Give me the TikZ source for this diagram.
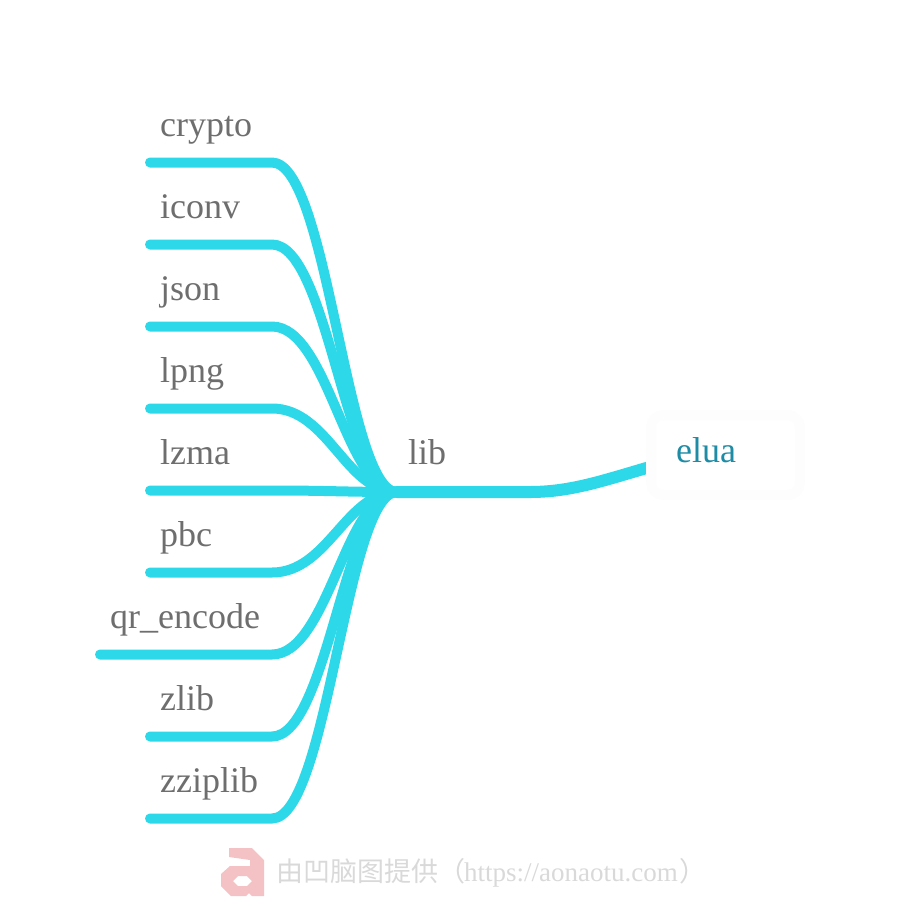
\documentclass[tikz,border=0pt]{standalone}
\usepackage{fontspec}
\setmainfont{Liberation Serif}
\newfontfamily\cjk{Noto Sans CJK SC}
\definecolor{branch}{HTML}{2DD8E8}
\definecolor{labelgray}{HTML}{6E6E6E}
\definecolor{rootteal}{HTML}{1F8CA6}
\definecolor{ringgray}{HTML}{FDFDFD}
\definecolor{markgray}{HTML}{D9D9D9}
\definecolor{logopink}{HTML}{F4C2C5}
\tikzset{
  leaf/.style={anchor=base west,inner sep=0pt,text=labelgray,font=\fontsize{36}{36}\selectfont},
  wire/.style={draw=branch,line width=10pt,line cap=round},
  trunk/.style={draw=branch,line width=12pt,line cap=round},
  rootbox/.style={draw=ringgray,fill=white,line width=10pt,rounded corners=12pt,minimum width=149pt,minimum height=80pt,inner sep=0pt},
}
\newcommand{\leafwire}[3]{%
  \coordinate (#1s) at (#2,#3);
  \coordinate (#1k) at (272,#3);
  \draw[wire] (#1s) -- (#1k) .. controls (328,#3) and (346,492) .. (hub);
}
\begin{document}
\begin{tikzpicture}[x=1pt,y=-1pt]
\useasboundingbox (0,0) rectangle (910,914);
\coordinate (hub) at (397,492);
\coordinate (tk) at (530,492);
\coordinate (tend) at (664,463);
\leafwire{a}{150}{162.5}
\leafwire{b}{150}{244.5}
\leafwire{c}{150}{326.5}
\leafwire{d}{150}{408.5}
\leafwire{e}{150}{490.5}
\leafwire{f}{150}{572.5}
\leafwire{g}{100}{654.5}
\leafwire{h}{150}{736.5}
\leafwire{i}{150}{818.5}
\draw[trunk] (hub) -- (tk) .. controls (575,492) and (610,478) .. (tend);
\node[rootbox] (root) at (725.5,455) {};
\node[leaf,text=rootteal] (elua) at (676,462) {elua};
\node[leaf] (lib) at (408,464) {lib};
\node[leaf] (n1) at (160,136) {crypto};
\node[leaf] (n2) at (160,218) {iconv};
\node[leaf] (n3) at (160,300) {json};
\node[leaf] (n4) at (160,382) {lpng};
\node[leaf] (n5) at (160,464) {lzma};
\node[leaf] (n6) at (160,546) {pbc};
\node[leaf] (n7) at (110,628) {qr\_encode};
\node[leaf] (n8) at (160,710) {zlib};
\node[leaf] (n9) at (160,792) {zziplib};
\fill[logopink,even odd rule] (229,848) -- (252,848) -- (264,860) -- (264,896) -- (252,896) -- (249,893) -- (246,896) -- (231,896) -- (221,886) -- (221,874) -- (230,866) -- (250,866) -- (250,860) -- (229,857) -- cycle
  (233,881) -- (238,876) -- (247,876) -- (252,881) -- (247,886) -- (238,886) -- cycle;
\node[anchor=base west,inner sep=0pt,text=markgray,font=\fontsize{27}{27}\selectfont] (mark) at (276.5,881) {{\cjk 由凹脑图提供（}\kern-1.5pt https://aonaotu.com\kern1.5pt{\cjk ）}};
\end{tikzpicture}
\end{document}
